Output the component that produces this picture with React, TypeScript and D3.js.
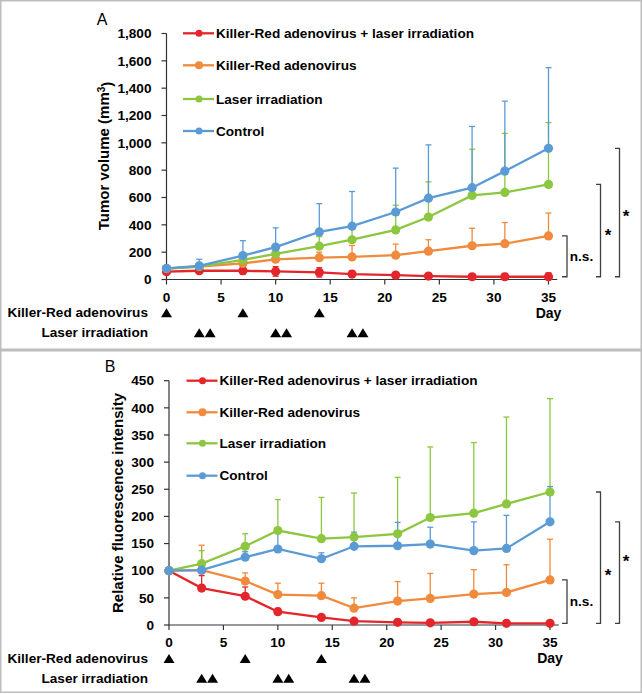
import React from "react";
import * as d3 from "d3";

const days = [0, 3, 7, 10, 14, 17, 21, 24, 28, 31, 35];
const seriesNames = [
  "Killer-Red adenovirus + laser irradiation",
  "Killer-Red adenovirus",
  "Laser irradiation",
  "Control",
];
const colors = ["#e3262b", "#f08a3c", "#8dc63f", "#5b9bd5"];

// Panel A: tumor volume (mm3)
const aKrLaser = [57, 64, 64, 59, 52, 40, 32, 25, 20, 20, 20];
const aKr = [80, 95, 118, 148, 160, 165, 178, 207, 247, 262, 319];
const aLaser = [80, 95, 143, 188, 244, 291, 363, 457, 615, 637, 696];
const aControl = [81, 99, 175, 237, 348, 390, 494, 595, 672, 793, 960];
const aKrLaserErr = [15, 20, 25, 35, 34, 24, 17, 19, 17, 24, 29];
const aKrErr = [10, 10, 20, 35, 40, 84, 81, 84, 128, 155, 167];
const aLaserErr = [10, 30, 32, 60, 70, 119, 180, 257, 338, 432, 452];
const aControlErr = [14, 49, 109, 141, 207, 254, 321, 390, 448, 512, 590];
const aTicks = [0, 200, 400, 600, 800, 1000, 1200, 1400, 1600, 1800];

// Panel B: relative fluorescence intensity
const bKrLaser = [100, 68, 53, 24.5, 14, 7, 5, 4, 6, 3, 3];
const bKr = [100, 101, 81, 56, 54, 31, 44, 49, 57, 60, 83];
const bLaser = [100, 113, 145, 174, 159, 162, 168, 198, 206, 223, 245];
const bControl = [100, 101, 125, 140, 122, 145, 146, 149, 137, 141, 190];
const bKrLaserErr = [0, 23, 17, 6, 5, 4, 3, 3, 4, 3, 3];
const bKrErr = [0, 46, 15, 21, 23, 19, 36, 46, 45, 51, 75];
const bLaserErr = [0, 24, 23, 57, 76, 81, 104, 130, 130, 160, 172];
const bControlErr = [0, 10, 10, 30, 11, 26, 43, 31, 53, 61, 65];
const bTicks = [0, 50, 100, 150, 200, 250, 300, 350, 400, 450];

const xTicks = [0, 5, 10, 15, 20, 25, 30, 35];
const adenovirusDays = [0, 7, 14];
const laserDays = [3, 4, 10, 11, 17, 18];

const FONT = "'Liberation Sans', Arial, sans-serif";
const AXIS = "#333";

type PanelProps = {
  letter: string;
  x: d3.ScaleLinear<number, number>;
  y: d3.ScaleLinear<number, number>;
  yTicks: number[];
  tickFormat: (v: number) => string;
  values: number[][];
  errs: number[][];
  redBoth: boolean;
  yTitle: React.ReactNode;
  yTitleX: number;
  yTitleY: number;
  letterPos: [number, number];
  legendX: number;
  legendYs: number[];
  markerRow1: number;
  markerRow2: number;
  nsY: number;
  star1Y: number;
  star2Y: number;
};

function Triangle({ cx, cy }: { cx: number; cy: number }) {
  const w = 11, h = 9;
  return (
    <path
      d={`M${cx - w / 2},${cy + h / 2} L${cx + w / 2},${cy + h / 2} L${cx},${cy - h / 2} Z`}
      fill="#000"
    />
  );
}

function Panel(p: PanelProps) {
  const { x, y } = p;
  const y0 = y(0);
  const x0 = x(0);
  const line = d3
    .line<number>()
    .x((_, i) => x(days[i]))
    .y((v) => y(v));
  const last = days.length - 1;
  const redEnd = y(p.values[0][last]);
  const brackets = [
    { xl: 562, xr: 567, top: y(p.values[1][last]) },
    { xl: 596, xr: 600.5, top: y(p.values[2][last]) },
    { xl: 615, xr: 619.5, top: y(p.values[3][last]) },
  ];
  return (
    <g fontFamily={FONT}>
      <text x={p.letterPos[0]} y={p.letterPos[1]} fontSize={16} dy="0.35em" textAnchor="middle">
        {p.letter}
      </text>
      <line x1={x0} x2={x0} y1={y0} y2={y(p.yTicks[p.yTicks.length - 1])} stroke={AXIS} strokeWidth={1.2} />
      <line x1={x0} x2={x(35.8)} y1={y0} y2={y0} stroke={AXIS} strokeWidth={1.2} />
      {p.yTicks.map((t) => (
        <g key={"yt" + t}>
          <line x1={x0 - 5} x2={x0} y1={y(t)} y2={y(t)} stroke={AXIS} strokeWidth={1.2} />
          <text x={x0 - 15} y={y(t)} dy="0.35em" textAnchor="end" fontSize={13.6} fontWeight="bold">
            {p.tickFormat(t)}
          </text>
        </g>
      ))}
      {xTicks.map((t) => (
        <g key={"xt" + t}>
          <line x1={x(t)} x2={x(t)} y1={y0} y2={y0 + 5} stroke={AXIS} strokeWidth={1.2} />
          <text x={x(t)} y={y0 + 17.5} dy="0.35em" textAnchor="middle" fontSize={13.6} fontWeight="bold">
            {t}
          </text>
        </g>
      ))}
      <text x={x(35)} y={p.markerRow1} dy="0.35em" textAnchor="middle" fontSize={14} fontWeight="bold">
        Day
      </text>
      <text
        transform={`translate(${p.yTitleX},${p.yTitleY}) rotate(-90)`}
        dy="0.35em"
        textAnchor="middle"
        fontSize={15}
        fontWeight="bold"
      >
        {p.yTitle}
      </text>
      {p.values.map((vals, si) =>
        vals.map((v, i) => {
          const e = p.errs[si][i];
          if (!e) return null;
          const cx = x(days[i]);
          const both = si === 0 && p.redBoth;
          const hi = y(v + e);
          const lo = both ? y(Math.max(0, v - e)) : y(v);
          return (
            <g key={`e${si}-${i}`} stroke={colors[si]} strokeWidth={1.3}>
              <line x1={cx} x2={cx} y1={lo} y2={hi} />
              <line x1={cx - 3} x2={cx + 3} y1={hi} y2={hi} />
              {both && <line x1={cx - 3} x2={cx + 3} y1={lo} y2={lo} />}
            </g>
          );
        })
      )}
      {p.values.map((vals, si) => (
        <g key={"s" + si}>
          <path d={line(vals) || ""} fill="none" stroke={colors[si]} strokeWidth={2.3} />
          {vals.map((v, i) => (
            <circle key={i} cx={x(days[i])} cy={y(v)} r={4.6} fill={colors[si]} />
          ))}
        </g>
      ))}
      {seriesNames.map((n, si) => (
        <g key={"l" + si}>
          <line
            x1={p.legendX}
            x2={p.legendX + 31}
            y1={p.legendYs[si]}
            y2={p.legendYs[si]}
            stroke={colors[si]}
            strokeWidth={2.3}
          />
          <circle cx={p.legendX + 16} cy={p.legendYs[si]} r={si === 1 ? 4 : 3.5} fill={colors[si]} />
          <text x={p.legendX + 33} y={p.legendYs[si]} dy="0.35em" fontSize={13.6} fontWeight="bold">
            {n}
          </text>
        </g>
      ))}
      <text x={148} y={p.markerRow1} dy="0.35em" textAnchor="end" fontSize={13.6} fontWeight="bold">
        Killer-Red adenovirus
      </text>
      <text x={148} y={p.markerRow2} dy="0.35em" textAnchor="end" fontSize={13.6} fontWeight="bold">
        Laser irradiation
      </text>
      {adenovirusDays.map((d) => (
        <Triangle key={"ad" + d} cx={x(d)} cy={p.markerRow1} />
      ))}
      {laserDays.map((d) => (
        <Triangle key={"ld" + d} cx={x(d)} cy={p.markerRow2} />
      ))}
      {brackets.map((b, i) => (
        <path
          key={"b" + i}
          d={`M${b.xl},${b.top} H${b.xr} V${redEnd} H${b.xl}`}
          fill="none"
          stroke="#404040"
          strokeWidth={1.3}
        />
      ))}
      <text x={581.5} y={p.nsY} dy="0.35em" textAnchor="middle" fontSize={13.6} fontWeight="bold">
        n.s.
      </text>
      <text x={608} y={p.star1Y + 9} textAnchor="middle" fontSize={17} fontWeight="bold">
        *
      </text>
      <text x={626} y={p.star2Y + 9} textAnchor="middle" fontSize={17} fontWeight="bold">
        *
      </text>
    </g>
  );
}

export default function App() {
  const xA = d3.scaleLinear().domain([0, 35]).range([166.5, 548.5]);
  const yA = d3.scaleLinear().domain([0, 1800]).range([279.5, 33.5]);
  const xB = d3.scaleLinear().domain([0, 35]).range([169, 550]);
  const yB = d3.scaleLinear().domain([0, 450]).range([625, 380.7]);
  const fmtA = d3.format(",");
  return (
    <svg
      width={642}
      height={694}
      style={{ position: "absolute", left: 0, top: 0, background: "#fff" }}
    >
      <rect x={0.75} y={0.75} width={640.5} height={348.5} fill="#fff" stroke="#bdbdbd" strokeWidth={1.5} />
      <rect x={0.75} y={350.75} width={640.5} height={341.5} fill="#fff" stroke="#bdbdbd" strokeWidth={1.5} />
      <Panel
        letter="A"
        x={xA}
        y={yA}
        yTicks={aTicks}
        tickFormat={(v) => fmtA(v)}
        values={[aKrLaser, aKr, aLaser, aControl]}
        errs={[aKrLaserErr, aKrErr, aLaserErr, aControlErr]}
        redBoth={true}
        yTitle={
          <>
            Tumor volume (mm
            <tspan dy="-0.45em" fontSize={10}>3</tspan>
            <tspan dy="0.45em">)</tspan>
          </>
        }
        yTitleX={104}
        yTitleY={156}
        letterPos={[102, 19]}
        legendX={183}
        legendYs={[33.3, 65.3, 99, 131]}
        markerRow1={312.7}
        markerRow2={332.7}
        nsY={256.5}
        star1Y={231.7}
        star2Y={213}
      />
      <Panel
        letter="B"
        x={xB}
        y={yB}
        yTicks={bTicks}
        tickFormat={(v) => String(v)}
        values={[bKrLaser, bKr, bLaser, bControl]}
        errs={[bKrLaserErr, bKrErr, bLaserErr, bControlErr]}
        redBoth={false}
        yTitle="Relative fluorescence intensity"
        yTitleX={118}
        yTitleY={503}
        letterPos={[110, 366]}
        legendX={186.5}
        legendYs={[380.7, 412.3, 443.3, 475.7]}
        markerRow1={658.5}
        markerRow2={678.3}
        nsY={601.7}
        star1Y={571.7}
        star2Y={558}
      />
    </svg>
  );
}
